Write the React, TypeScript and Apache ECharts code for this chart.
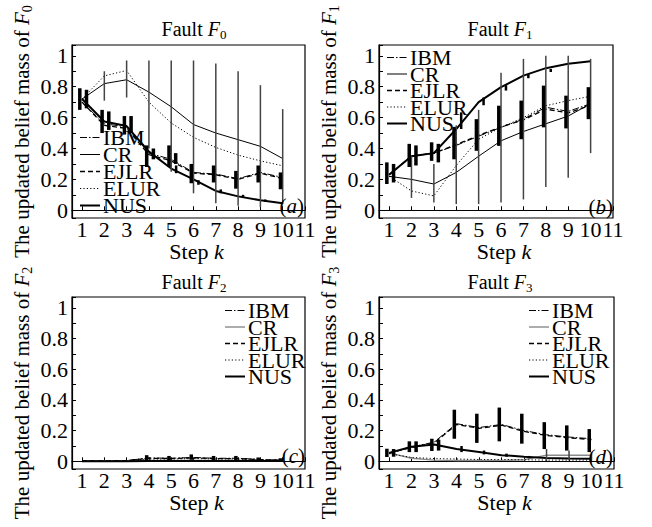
import React, { useEffect, useRef } from "react";
import * as echarts from "echarts";

const SERIF = "'Liberation Serif', 'Times New Roman', serif";

const steps = [1, 2, 3, 4, 5, 6, 7, 8, 9, 10];
const methods = ["IBM", "CR", "EJLR", "ELUR", "NUS"];

// ---- Panel (a): Fault F0 ----
const ibmA = [0.7, 0.56, 0.54, 0.37, 0.33, 0.245, 0.234, 0.205, 0.245, 0.212];
const crA = [0.72, 0.82, 0.845, 0.765, 0.67, 0.555, 0.5, 0.457, 0.414, 0.335];
const ejlrA = [0.7, 0.55, 0.53, 0.36, 0.32, 0.24, 0.23, 0.2, 0.24, 0.205];
const elurA = [0.72, 0.87, 0.905, 0.7, 0.565, 0.472, 0.407, 0.357, 0.32, 0.288];
const nusA = [0.72, 0.575, 0.545, 0.38, 0.27, 0.2, 0.125, 0.09, 0.065, 0.045];
const ibmBarA = [[0.65, 0.79], [0.5, 0.65], [0.49, 0.61], [0.28, 0.42], [0.28, 0.42], [0.175, 0.3], [0.18, 0.29], [0.14, 0.255], [0.18, 0.29], [0.136, 0.245]];
const ejlrBarA = [[0.66, 0.78], [0.52, 0.64], [0.5, 0.61], [0.33, 0.4], [0.3, 0.37], null, null, null, null, null];
const whiskerA = [null, [0.71, 0.9], [0.73, 0.97], [0.4, 0.97], [0.25, 0.97], [0.11, 0.97], [0.045, 0.95], [0.03, 0.9], [0.02, 0.81], [0.04, 0.655]];
const nusBarA = [null, null, null, null, [0.24, 0.29], [0.165, 0.195], [0.11, 0.135], [0.08, 0.1], [0.055, 0.07], null];

// ---- Panel (b): Fault F1 ----
const ibmB = [0.23, 0.35, 0.37, 0.42, 0.48, 0.537, 0.59, 0.667, 0.64, 0.69];
const crB = [0.22, 0.2, 0.17, 0.245, 0.35, 0.45, 0.51, 0.56, 0.61, 0.69];
const ejlrB = [0.23, 0.35, 0.37, 0.425, 0.485, 0.54, 0.585, 0.655, 0.63, 0.68];
const elurB = [0.22, 0.125, 0.093, 0.29, 0.46, 0.537, 0.6, 0.677, 0.71, 0.738];
const nusB = [0.23, 0.35, 0.37, 0.526, 0.7, 0.797, 0.872, 0.92, 0.948, 0.965];
const ibmBarB = [[0.17, 0.31], [0.28, 0.43], [0.32, 0.44], [0.33, 0.54], [0.385, 0.59], [0.417, 0.677], [0.46, 0.71], [0.537, 0.807], [0.53, 0.742], [0.59, 0.797]];
const ejlrBarB = [[0.18, 0.3], [0.29, 0.42], [0.31, 0.43], null, null, null, null, null, null, null];
const whiskerB = [null, [0.08, 0.35], [0.05, 0.3], [0.04, 0.55], [0.04, 0.65], [0.05, 0.89], [0.07, 0.98], [0.15, 1.0], [0.21, 1.0], [0.37, 0.98]];
const nusBarB = [null, null, null, [0.526, 0.634], [0.68, 0.73], [0.775, 0.81], [0.855, 0.88], [0.895, 0.915], null, null];

// ---- Panel (c): Fault F2 ----
const ibmC = [0.002, 0.002, 0.005, 0.022, 0.02, 0.025, 0.02, 0.02, 0.012, 0.008];
const crC = [0.002, 0.002, 0.002, 0.005, 0.005, 0.005, 0.005, 0.005, 0.005, 0.005];
const ejlrC = [0.002, 0.002, 0.005, 0.02, 0.018, 0.023, 0.018, 0.018, 0.011, 0.007];
const elurC = [0.002, 0.002, 0.004, 0.015, 0.015, 0.018, 0.015, 0.015, 0.01, 0.006];
const nusC = [0.001, 0.001, 0.001, 0.002, 0.002, 0.002, 0.002, 0.002, 0.002, 0.002];
const ibmBarC = [null, null, null, [0.005, 0.04], [0.005, 0.035], [0.01, 0.045], [0.005, 0.035], [0.005, 0.035], [0.0, 0.025], [0.0, 0.02]];
const ejlrBarC = [null, null, null, null, null, null, null, null, null, null];
const whiskerC = [null, null, null, null, null, null, null, null, null, null];
const nusBarC = [null, null, null, null, null, null, null, null, null, null];

// ---- Panel (d): Fault F3 ----
const ibmD = [0.054, 0.093, 0.125, 0.245, 0.22, 0.24, 0.2, 0.173, 0.158, 0.147];
const crD = [0.055, 0.02, 0.008, 0.005, 0.005, 0.006, 0.01, 0.04, 0.04, 0.04];
const ejlrD = [0.054, 0.09, 0.12, 0.24, 0.215, 0.235, 0.195, 0.168, 0.153, 0.142];
const elurD = [0.05, 0.025, 0.018, 0.015, 0.012, 0.012, 0.01, 0.008, 0.008, 0.008];
const nusD = [0.055, 0.095, 0.11, 0.08, 0.06, 0.04, 0.03, 0.022, 0.018, 0.016];
const ibmBarD = [[0.028, 0.082], [0.06, 0.13], [0.067, 0.147], [0.147, 0.336], [0.12, 0.31], [0.13, 0.35], [0.115, 0.31], [0.08, 0.255], [0.07, 0.234], [0.06, 0.21]];
const ejlrBarD = [[0.03, 0.08], [0.06, 0.13], [0.07, 0.14], null, null, null, null, null, null, null];
const whiskerD = [null, null, null, null, null, null, null, [0.005, 0.08], [0.005, 0.07], [0.005, 0.06]];
const nusBarD = [null, null, null, [0.06, 0.1], [0.045, 0.07], [0.03, 0.05], [0.02, 0.035], null, null, null];

const panels = [
  { tag: "a", sub: "0", grid: { left: 72, top: 45, width: 233, height: 173 }, lines: [ibmA, crA, ejlrA, elurA, nusA], crGray: false,
    ibmBar: ibmBarA, ejlrBar: ejlrBarA, whisker: whiskerA, nusBar: nusBarA, legend: { left: 79, top: 126.5, gap: -5 }, title: [194, 28.5], tagPos: [304, 206], namePad: 0 },
  { tag: "b", sub: "1", grid: { left: 379, top: 45, width: 234, height: 173 }, lines: [ibmB, crB, ejlrB, elurB, nusB], crGray: false,
    ibmBar: ibmBarB, ejlrBar: ejlrBarB, whisker: whiskerB, nusBar: nusBarB, legend: { left: 386, top: 46.5, gap: -5.5 }, title: [500, 28.5], tagPos: [613, 207], namePad: 0 },
  { tag: "c", sub: "2", grid: { left: 72, top: 297, width: 233, height: 172 }, lines: [ibmC, crC, ejlrC, elurC, nusC], crGray: true,
    ibmBar: ibmBarC, ejlrBar: ejlrBarC, whisker: whiskerC, nusBar: nusBarC, legend: { left: 224, top: 299.5, gap: -5.5 }, title: [194, 281.5], tagPos: [305, 456], namePad: 20 },
  { tag: "d", sub: "3", grid: { left: 379, top: 297, width: 235, height: 172 }, lines: [ibmD, crD, ejlrD, elurD, nusD], crGray: true,
    ibmBar: ibmBarD, ejlrBar: ejlrBarD, whisker: whiskerD, nusBar: nusBarD, legend: { left: 528, top: 299.5, gap: -5.5 }, title: [500, 281.5], tagPos: [613, 457], namePad: 20 },
];

const lineStyleFor = (m: string, gray: boolean) => {
  switch (m) {
    case "IBM": return { color: "#000", width: 1, type: [7, 2, 1.5, 2] };
    case "CR": return { color: gray ? "#8a8a8a" : "#000", width: gray ? 1.4 : 1, type: "solid" };
    case "EJLR": return { color: "#000", width: 1.3, type: [5, 3] };
    case "ELUR": return { color: "#000", width: 1, type: [1.2, 2.2] };
    default: return { color: "#000", width: 2, type: "solid" };
  }
};

const rich = (size: number) => ({
  n: { fontFamily: SERIF, fontSize: size, lineHeight: size + 4, color: "#000" },
  i: { fontFamily: SERIF, fontStyle: "italic", fontSize: size, lineHeight: size + 4, color: "#000" },
  s: { fontFamily: SERIF, fontSize: Math.round(size * 0.65), lineHeight: Math.round(size * 0.7), verticalAlign: "bottom", color: "#000" },
});

const barRender = (width: number, color: string) => (params: any, api: any) => {
  const x = api.value(0);
  const p1 = api.coord([x, api.value(1)]);
  const p2 = api.coord([x, api.value(2)]);
  return {
    type: "line",
    shape: { x1: p1[0], y1: p1[1], x2: p2[0], y2: p2[1] },
    style: { stroke: color, lineWidth: width },
  };
};

const barData = (bars: any[], off: number) =>
  steps.map((k, i) => (bars[i] ? [k + off, bars[i][0], bars[i][1]] : null)).filter((d) => d !== null);

const yFmt = (v: number) => {
  const t = Math.round(v * 10);
  if (Math.abs(v * 10 - t) > 1e-6 || t % 2 !== 0) return "";
  return String(t / 10);
};
const xFmt = (v: number) => (Math.abs(v - Math.round(v)) < 1e-6 ? String(Math.round(v)) : "");

function buildOption() {
  const series: any[] = [];
  panels.forEach((p, pi) => {
    methods.forEach((m, mi) => {
      series.push({
        type: "line",
        name: m === "CR" && p.crGray ? "CR " : m,
        xAxisIndex: pi,
        yAxisIndex: pi,
        symbol: "none",
        showSymbol: false,
        z: m === "NUS" ? 4 : 3,
        lineStyle: lineStyleFor(m, p.crGray),
        data: steps.map((k, i) => [k, p.lines[mi][i]]),
      });
    });
    const customs: [any[], number, number, string][] = [
      [p.whisker, 0, 1.5, "#444"],
      [p.ibmBar, -0.1, 3.5, "#000"],
      [p.ejlrBar, 0.2, 3.5, "#000"],
      [p.nusBar, 0.22, 2.5, "#000"],
    ];
    customs.forEach(([bars, off, w, c]) => {
      const d = barData(bars, off);
      if (!d.length) return;
      series.push({
        type: "custom",
        name: "bars",
        xAxisIndex: pi,
        yAxisIndex: pi,
        z: 5,
        encode: { x: 0, y: [1, 2] },
        renderItem: barRender(w, c),
        data: d,
      });
    });
  });

  return {
    animation: false,
    backgroundColor: "#fff",
    textStyle: { fontFamily: SERIF },
    grid: panels.map((p) => ({ ...p.grid, show: true, borderColor: "#000", borderWidth: 1.2, backgroundColor: "transparent" })),
    xAxis: panels.map((p, pi) => ({
      type: "value",
      gridIndex: pi,
      min: 0.55,
      max: 11,
      minInterval: 1,
      maxInterval: 1,
      name: "{n|Step }{i|k}",
      nameLocation: "middle",
      nameGap: 17,
      nameTextStyle: { fontFamily: SERIF, rich: rich(22), padding: [0, 0, 0, 16] },
      axisLine: { show: true, lineStyle: { color: "#000", width: 1.2 } },
      axisTick: { show: true, inside: true, length: 4, lineStyle: { color: "#000" } },
      axisLabel: { formatter: xFmt, fontFamily: SERIF, fontSize: 22, lineHeight: 22, color: "#000", margin: 0 },
      splitLine: { show: false },
    })),
    yAxis: panels.map((p, pi) => ({
      type: "value",
      gridIndex: pi,
      min: -0.05,
      max: 1.07,
      minInterval: 0.1,
      maxInterval: 0.1,
      name: `{n|The updated belief mass of }{i|F}{s|${p.sub}}`,
      nameLocation: "middle",
      nameGap: 38,
      nameTextStyle: { fontFamily: SERIF, rich: rich(21), padding: [0, p.namePad, 0, 0] },
      axisLine: { show: true, lineStyle: { color: "#000", width: 1.2 } },
      axisTick: { show: true, inside: true, length: 4, lineStyle: { color: "#000" } },
      axisLabel: { formatter: yFmt, fontFamily: SERIF, fontSize: 22, lineHeight: 22, color: "#000", margin: 4 },
      splitLine: { show: false },
    })),
    legend: panels.map((p) => ({
      orient: "vertical",
      left: p.legend.left,
      top: p.legend.top,
      padding: 0,
      itemGap: p.legend.gap,
      itemWidth: 20,
      itemHeight: 12,
      selectedMode: false,
      data: methods.map((m) => (m === "CR" && p.crGray ? "CR " : m)),
      textStyle: { fontFamily: SERIF, fontSize: 22, color: "#000", padding: [0, 0, 0, -2] },
      itemStyle: { opacity: 0 },
      lineStyle: { width: "inherit" },
      z: 6,
    })),
    graphic: [
      ...panels.map((p) => ({
        type: "text",
        x: p.title[0],
        y: p.title[1],
        z: 10,
        style: { text: `{n|Fault }{i|F}{s|${p.sub}}`, rich: rich(20), align: "center", verticalAlign: "middle" },
      })),
      ...panels.map((p) => ({
        type: "text",
        x: p.tagPos[0],
        y: p.tagPos[1],
        z: 10,
        style: { text: `{n|(}{i|${p.tag}}{n|)}`, rich: rich(21), align: "right", verticalAlign: "middle" },
      })),
    ],
    series,
  };
}

export default function App() {
  const ref = useRef<HTMLDivElement>(null);
  useEffect(() => {
    if (!ref.current) return;
    const chart = echarts.init(ref.current, undefined, { renderer: "svg" });
    chart.setOption(buildOption() as any);
    return () => chart.dispose();
  }, []);
  return (
    <div
      ref={ref}
      style={{ position: "fixed", left: 0, top: 0, width: 652, height: 527, background: "#fff" }}
    />
  );
}
